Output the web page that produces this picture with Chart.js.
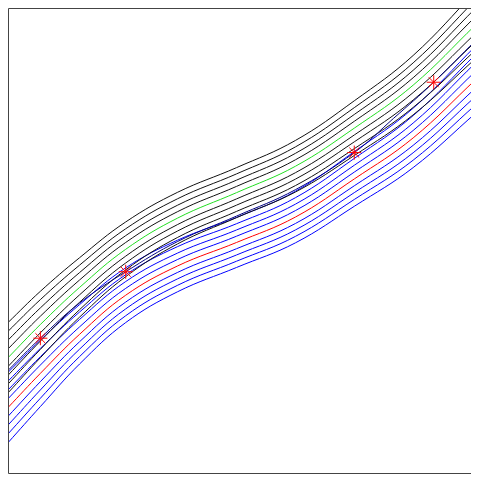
<!DOCTYPE html>
<html>
<head>
<meta charset="utf-8">
<script src="https://cdn.jsdelivr.net/npm/chart.js@4/dist/chart.umd.min.js"></script>
<style>
  html, body { margin: 0; padding: 0; background: #ffffff; overflow: hidden; }
  canvas { display: block; }
</style>
</head>
<body>
<canvas id="curves" width="479" height="481"></canvas>
<script>
// x positions shared by the offset families
const xPos = [0, 33, 73, 120, 173, 233, 293, 353, 413, 477];

// green centre curve and its black offsets
const greenLine = [118, 152, 190, 229, 261, 287, 314, 353, 397, 459];
const blackUp1 = [127, 160.5, 197.6, 236, 267.6, 293.4, 320.6, 360, 404.6, 467.6];
const blackUp2 = [136, 169, 205.2, 243, 274.2, 299.8, 327.2, 367, 412.2, 476.2];
const blackUp3 = [145, 177.5, 212.8, 250, 280.8, 306.2, 333.8, 374, 419.8, 484.8];
const blackUp4 = [154, 186, 220.4, 257, 287.4, 312.6, 340.4, 381, 427.4, 493.4];
const blackDown1 = [109, 143.5, 182.4, 222, 254.4, 280.6, 307.4, 346, 389.4, 450.4];
const blackDown2 = [100, 135, 174.8, 215, 247.8, 274.2, 300.8, 339, 381.8, 441.8];
const blackDown3 = [91, 126.5, 167.2, 208, 241.2, 267.8, 294.2, 332, 374.2, 433.2];
const blackDown4 = [82, 118, 159.6, 201, 234.6, 261.4, 287.6, 325, 366.6, 424.6];

// red centre curve and its blue offsets
const redLine = [67, 102, 142, 182, 212, 236, 262, 301, 343, 403];
const blueUp1 = [76, 110.5, 149.6, 189, 218.6, 242.4, 268.6, 308, 350.6, 411.6];
const blueUp2 = [85, 119, 157.2, 196, 225.2, 248.8, 275.2, 315, 358.2, 420.2];
const blueUp3 = [94, 127.5, 164.8, 203, 231.8, 255.2, 281.8, 322, 365.8, 428.8];
const blueUp4 = [103, 136, 172.4, 210, 238.4, 261.6, 288.4, 329, 373.4, 437.4];
const blueDown1 = [58, 93.5, 134.4, 175, 205.4, 229.6, 255.4, 294, 335.4, 394.4];
const blueDown2 = [49, 85, 126.8, 168, 198.8, 223.2, 248.8, 287, 327.8, 385.8];
const blueDown3 = [40, 76.5, 119.2, 161, 192.2, 216.8, 242.2, 280, 320.2, 377.2];
const blueDown4 = [31, 68, 111.6, 154, 185.6, 210.4, 235.6, 273, 312.6, 368.6];

// dark curve through the marked points
const navyX = [0, 33, 73, 120, 173, 233, 293, 353, 393, 434, 477];
const navyLine = [105, 138, 174, 206, 237, 263, 290, 328, 363, 400, 443];

// red star markers
const starX = [33, 120, 353, 434];
const starY = [138, 206, 328, 400];

function pts(xs, ys) {
  return xs.map((x, i) => ({ x: x, y: ys[i] }));
}

function curve(ys, color, xs) {
  return {
    data: pts(xs || xPos, ys),
    borderColor: color,
    borderWidth: 1,
    pointRadius: 0,
    fill: false,
    tension: 0.4,
    order: 5
  };
}

const datasets = [];
[blackUp4, blackUp3, blackUp2, blackUp1, blackDown1, blackDown2, blackDown3, blackDown4]
  .forEach(ys => datasets.push(curve(ys, '#111111')));
datasets.push(curve(greenLine, '#22dd22'));
[blueUp4, blueUp3, blueUp2, blueUp1, blueDown1, blueDown2, blueDown3, blueDown4]
  .forEach(ys => datasets.push(curve(ys, '#0000ff')));
datasets.push(curve(redLine, '#ff0000'));
const navy = curve(navyLine, '#000080', navyX);
navy.order = 2;
datasets.push(navy);
datasets.push({
  type: 'scatter',
  data: pts(starX, starY),
  pointStyle: 'star',
  pointRadius: 7,
  borderColor: '#ff0000',
  borderWidth: 1,
  order: 0
});

// frame on left, top and bottom of the plot area (right side is off the page)
const framePlugin = {
  id: 'frame',
  afterDraw(chart) {
    const { ctx, chartArea } = chart;
    const l = chartArea.left + 0.5, t = chartArea.top + 0.5, b = chartArea.bottom + 0.5;
    ctx.save();
    ctx.strokeStyle = '#444444';
    ctx.lineWidth = 1;
    ctx.beginPath(); ctx.moveTo(l, t); ctx.lineTo(chartArea.right, t); ctx.stroke();
    ctx.beginPath(); ctx.moveTo(l, t); ctx.lineTo(l, b); ctx.stroke();
    ctx.beginPath(); ctx.moveTo(l, b); ctx.lineTo(chartArea.right, b); ctx.stroke();
    ctx.restore();
  }
};

new Chart(document.getElementById('curves').getContext('2d'), {
  type: 'line',
  data: { datasets: datasets },
  options: {
    responsive: false,
    animation: false,
    layout: { padding: { left: 7, top: 1, right: 0, bottom: 4 } },
    plugins: { legend: { display: false }, tooltip: { enabled: false } },
    scales: {
      x: { type: 'linear', display: false, min: 0, max: 472 },
      y: { type: 'linear', display: false, min: 0, max: 476 }
    }
  },
  plugins: [framePlugin]
});
</script>
</body>
</html>
